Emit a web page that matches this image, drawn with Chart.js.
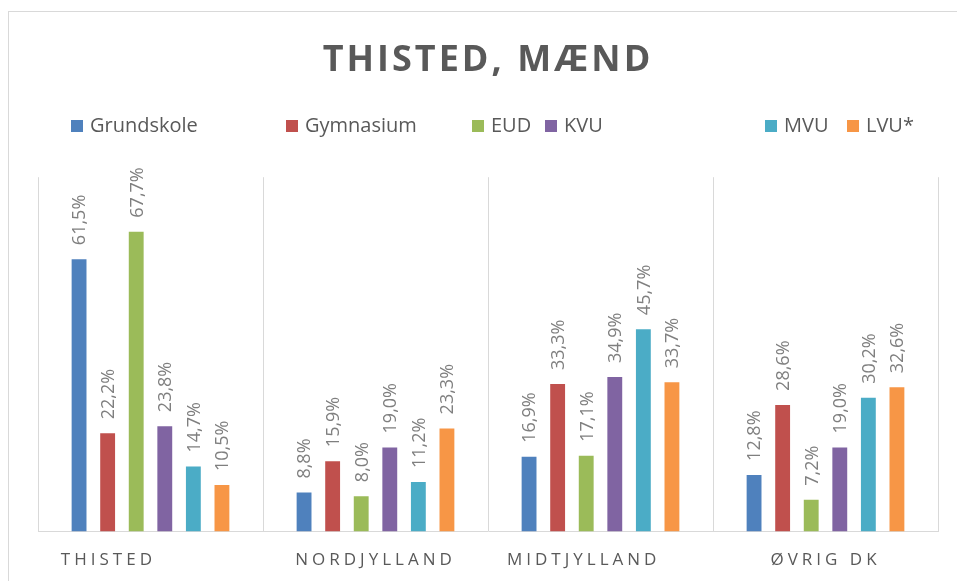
<!DOCTYPE html>
<html><head><meta charset="utf-8">
<script src="https://cdn.jsdelivr.net/npm/chart.js@4.4.1/dist/chart.umd.min.js"></script>
<style>
html,body{margin:0;padding:0;background:#fff;overflow:hidden;}
#frame{position:absolute;left:8px;top:11px;width:1000px;height:700px;border:1px solid #d9d9d9;box-sizing:border-box;}
#wrap{position:absolute;left:0;top:0;width:957px;height:581px;}
</style></head><body>
<div id="frame"></div>
<div id="wrap"><canvas id="c"></canvas></div>
<script>
const chartTitle = 'THISTED, MÆND';
const categories = ['THISTED', 'NORDJYLLAND', 'MIDTJYLLAND', 'ØVRIG DK'];
const seriesNames = ['Grundskole', 'Gymnasium', 'EUD', 'KVU', 'MVU', 'LVU*'];
const grundskole = [61.5, 8.8, 16.9, 12.8];
const gymnasium = [22.2, 15.9, 33.3, 28.6];
const eud = [67.7, 8.0, 17.1, 7.2];
const kvu = [23.8, 19.0, 34.9, 19.0];
const mvu = [14.7, 11.2, 45.7, 30.2];
const lvu = [10.5, 23.3, 33.7, 32.6];
const seriesValues = [grundskole, gymnasium, eud, kvu, mvu, lvu];
const colors = ['#4f81bd', '#c0504d', '#9bbb59', '#8064a2', '#4bacc6', '#f79646'];

// layout-only settings
const FONT = "'Open Sans', 'Liberation Sans', sans-serif";
const legendX = [71, 286, 472, 545, 765, 847];
const tickPad = [10, 0, 4, 0];

Chart.defaults.font.family = FONT;

const letterSpacingPlugin = {
  id: 'letterSpacing',
  beforeDraw(chart) {
    const tb = chart.titleBlock;
    if (tb && !tb._lsWrapped) {
      const d = tb.draw.bind(tb);
      tb.draw = function (a) { const ctx = this.ctx; ctx.save(); ctx.letterSpacing = '3px'; d(a); ctx.restore(); };
      tb._lsWrapped = true;
    }
    const s = chart.scales.x;
    if (s && !s._lsWrapped) {
      const d2 = s.drawLabels.bind(s);
      s.drawLabels = function (a) { const ctx = this.ctx; ctx.save(); ctx.letterSpacing = '4px'; d2(a); ctx.restore(); };
      s._lsWrapped = true;
    }
  }
};

const dataLabelPlugin = {
  id: 'dataLabels',
  afterDatasetsDraw(chart) {
    const ctx = chart.ctx;
    const size = 18;
    ctx.save();
    ctx.font = size + 'px ' + FONT;
    ctx.fillStyle = '#7f7f7f';
    chart.data.datasets.forEach((ds, di) => {
      const meta = chart.getDatasetMeta(di);
      meta.data.forEach((bar, i) => {
        const v = ds.data[i];
        const txt = v.toFixed(1).replace('.', ',') + '%';
        ctx.save();
        ctx.translate(bar.x + size * 0.714 / 2, bar.y - 14);
        ctx.rotate(-Math.PI / 2);
        ctx.textAlign = 'left';
        ctx.textBaseline = 'alphabetic';
        ctx.fillText(txt, 0, 0);
        ctx.restore();
      });
    });
    ctx.restore();
  }
};

const legendPlugin = {
  id: 'customLegend',
  afterDraw(chart) {
    const ctx = chart.ctx;
    ctx.save();
    ctx.font = '20px ' + FONT;
    ctx.textBaseline = 'middle';
    ctx.textAlign = 'left';
    chart.data.datasets.forEach((ds, i) => {
      const x = legendX[i];
      ctx.fillStyle = ds.backgroundColor;
      ctx.fillRect(x, 120, 12, 12);
      ctx.fillStyle = '#595959';
      ctx.fillText(ds.label, x + 19, 126);
    });
    ctx.restore();
  }
};

new Chart(document.getElementById('c'), {
  type: 'bar',
  data: {
    labels: categories,
    datasets: seriesNames.map((name, i) => ({
      label: name,
      data: seriesValues[i],
      backgroundColor: colors[i],
      borderWidth: 0,
      categoryPercentage: 0.762,
      barPercentage: 0.52
    }))
  },
  options: {
    responsive: true,
    maintainAspectRatio: false,
    animation: false,
    layout: { padding: { left: 38, right: 19, top: 0, bottom: -7 } },
    plugins: {
      legend: { display: false },
      tooltip: { enabled: false },
      title: {
        display: true,
        text: chartTitle,
        color: '#595959',
        font: { size: 36, weight: 'bold', family: FONT },
        padding: { top: 39, bottom: 95 }
      }
    },
    scales: {
      x: {
        offset: true,
        grid: { display: true, offset: true, color: '#d9d9d9', lineWidth: 1, drawTicks: false },
        border: { display: true, color: '#d9d9d9', width: 1 },
        ticks: {
          color: '#595959',
          font: { size: 17, family: FONT },
          padding: 18,
          maxRotation: 0,
          autoSkip: false,
          callback: (v, i) => categories[i] + ' '.repeat(tickPad[i])
        }
      },
      y: {
        display: false,
        min: 0,
        max: 80
      }
    }
  },
  plugins: [letterSpacingPlugin, dataLabelPlugin, legendPlugin]
});
</script>
</body></html>
